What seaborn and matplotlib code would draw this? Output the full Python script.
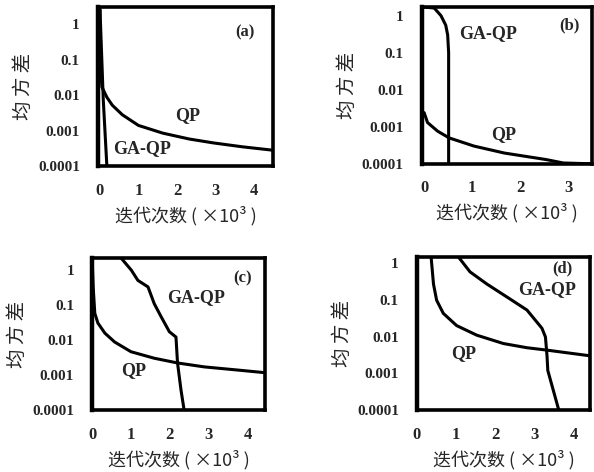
import numpy as np
import pandas as pd
import matplotlib
matplotlib.use("Agg")
from matplotlib import pyplot as plt
import seaborn as sns

# data ##########################################################################
a_qp_x = [0.0, 0.0, 0.03, 0.05, 0.18, 0.32, 0.58, 1.0, 1.63, 2.32, 2.95, 3.7, 4.5]
a_qp_y = [2.5, 0.19, 0.04, 0.017, 0.0087, 0.0052, 0.0028, 0.0014, 0.00085,
          0.00058, 0.00045, 0.00035, 0.00028]
a_ga_x = [0.0, 0.087, 0.18]
a_ga_y = [2.8, 0.0072, 0.0001]

b_qp_x = [0.0, 0.07, 0.28, 0.52, 1.04, 1.67, 2.54, 2.9, 3.5]
b_qp_y = [0.0024, 0.0013, 0.00076, 0.0005, 0.0003, 0.000195, 0.00013, 0.000105, 0.0001]
b_ga_x = [0.0, 0.21, 0.35, 0.45, 0.49, 0.51, 0.51]
b_ga_y = [1.7, 1.6, 1.0, 0.55, 0.3, 0.1, 0.0001]

c_qp_x = [0.0, 0.03, 0.07, 0.15, 0.33, 0.58, 1.0, 1.6, 2.2, 2.89, 3.7, 4.5]
c_qp_y = [2.1, 0.3, 0.057, 0.03, 0.0155, 0.0087, 0.0046, 0.003, 0.0022, 0.0017,
          0.0014, 0.00115]
c_ga_x = [0.75, 1.01, 1.18, 1.44, 1.6, 1.78, 1.99, 2.16, 2.2, 2.29, 2.37]
c_ga_y = [2.1, 0.96, 0.49, 0.32, 0.107, 0.045, 0.017, 0.012, 0.0022, 0.00037, 0.0001]

d_qp_x = [0.36, 0.42, 0.5, 0.67, 1.01, 1.52, 2.2, 2.8, 3.31, 4.42]
d_qp_y = [1.45, 0.27, 0.098, 0.043, 0.02, 0.011, 0.0065, 0.005, 0.0043, 0.003]
d_ga_x = [1.06, 1.35, 1.78, 2.29, 2.8, 3.18, 3.27, 3.31, 3.33, 3.61]
d_ga_y = [1.45, 0.58, 0.27, 0.12, 0.053, 0.017, 0.0098, 0.003, 0.0012, 0.0001]

y_ticks = [1, 0.1, 0.01, 0.001, 0.0001]
y_labels = ["1", "0.1", "0.01", "0.001", "0.0001"]
x_label = "迭代次数 ( ×10³ )"
y_label = "均 方 差"

# style ########################################################################
sns.set_style("white")
plt.rcParams["font.family"] = ["Liberation Serif", "Noto Sans CJK SC", "DejaVu Sans"]
cjk = ["Noto Sans CJK SC", "DejaVu Sans"]

fig = plt.figure(figsize=(5.94, 4.72), dpi=100)

panels = [
    # name, rect, qp, ga, xlim, ylim, xticks, label pos, qp pos, ga pos
    ("(a)", [0.165, 0.648, 0.295, 0.337], (a_qp_x, a_qp_y), (a_ga_x, a_ga_y),
     (-0.05, 4.5), (1e-4, 3.0), [0, 1, 2, 3, 4], (0.84, 0.84), (0.51, 0.32), (0.25, 0.11)),
    ("(b)", [0.710, 0.653, 0.287, 0.332], (b_qp_x, b_qp_y), (b_ga_x, b_ga_y),
     (-0.05, 3.5), (1e-4, 1.7), [0, 1, 2, 3], (0.865, 0.885), (0.48, 0.185), (0.39, 0.83)),
    ("(c)", [0.155, 0.131, 0.291, 0.322], (c_qp_x, c_qp_y), (c_ga_x, c_ga_y),
     (0.0, 4.45), (1e-4, 2.1), [0, 1, 2, 3, 4], (0.87, 0.87), (0.24, 0.26), (0.6, 0.74)),
    ("(d)", [0.702, 0.131, 0.291, 0.324], (d_qp_x, d_qp_y), (d_ga_x, d_ga_y),
     (0.0, 4.4), (1e-4, 1.45), [0, 1, 2, 3, 4], (0.84, 0.93), (0.27, 0.37), (0.75, 0.79)),
]

for name, rect, qp, ga, xlim, ylim, xt, lpos, qpos, gpos in panels:
    ax = fig.add_axes(rect)
    for xs, ys in (qp, ga):
        df = pd.DataFrame({"x": xs, "y": ys})
        sns.lineplot(data=df, x="x", y="y", ax=ax, color="black", lw=2.2,
                     estimator=None, sort=False)
    ax.set_yscale("log")
    ax.set_xlim(*xlim)
    ax.set_ylim(*ylim)
    ax.set_yticks(y_ticks)
    ax.set_yticklabels(y_labels)
    ax.minorticks_off()
    ax.set_xticks(xt)
    ax.set_xticklabels([str(v) for v in xt])
    ax.tick_params(axis="y", direction="in", length=3, width=1.5, pad=13,
                   labelsize=11)
    ax.tick_params(axis="x", direction="in", length=3, width=1.5, pad=12,
                   labelsize=12)
    for lab in ax.get_xticklabels() + ax.get_yticklabels():
        lab.set_fontweight("bold")
    for sp in ax.spines.values():
        sp.set_linewidth(2.6)
        sp.set_color("black")
    ax.spines["left"].set_linewidth(3.2)
    ax.set_xlabel(x_label, family=cjk, fontsize=13, labelpad=5)
    ax.set_ylabel(y_label, family=cjk, fontsize=14, labelpad=3)
    ax.text(*lpos, name, transform=ax.transAxes, ha="center", va="center",
            fontsize=12, fontweight="bold")
    ax.text(*qpos, "QP", transform=ax.transAxes, ha="center", va="center",
            fontsize=13, fontweight="bold")
    ax.text(*gpos, "GA-QP", transform=ax.transAxes, ha="center", va="center",
            fontsize=13, fontweight="bold")

fig.savefig("out.png", dpi=100)
